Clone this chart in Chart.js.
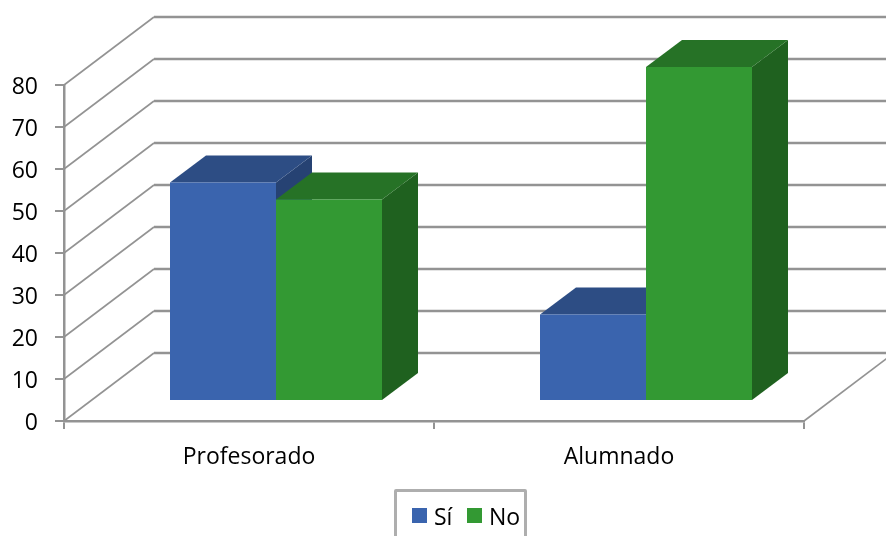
<!DOCTYPE html>
<html>
<head>
<meta charset="utf-8">
<title>Profesorado y Alumnado</title>
<script src="https://cdn.jsdelivr.net/npm/chart.js@4"></script>
<style>
html, body { margin: 0; padding: 0; background: #fff; overflow: hidden; }
#wrap { position: relative; width: 886px; height: 536px; overflow: hidden; }
canvas { display: block; }
#legend {
    position: absolute; left: 394px; top: 489px; width: 127px; height: 60px;
    border: 3px solid #aeaeae; border-radius: 2px;
    font: 23px "Open Sans", sans-serif; color: #000;
}
#legend span { position: absolute; top: 9px; line-height: 30px; }
#legend i { position: absolute; top: 16px; width: 15px; height: 15px; }
</style>
</head>
<body>
<div id="wrap">
    <canvas id="chart" width="886" height="536"></canvas>
    <div id="legend"></div>
</div>
<script>
const categories = ['Profesorado', 'Alumnado'];
const siValues = [52, 20.6];
const noValues = [48, 79.5];
const seriesNames = ['Sí', 'No'];

const front = ['#3a64ae', '#339933'];
const top3d = ['#2d4d84', '#267226'];
const side3d = ['#264273', '#1f611f'];
const lineColor = '#939393';

// depth of the floor/walls and of the bars themselves
const wallDx = 90, wallDy = -68;
const barDx = 36, barDy = -27;
const shiftX = 27, shiftY = -20;

function poly(ctx, color, pts) {
    ctx.fillStyle = color;
    ctx.beginPath();
    pts.forEach((p, i) => i ? ctx.lineTo(p[0], p[1]) : ctx.moveTo(p[0], p[1]));
    ctx.closePath();
    ctx.fill();
}

const walls = {
    id: 'walls',
    beforeDatasetsDraw(chart) {
        const ctx = chart.ctx, yScale = chart.scales.y, area = chart.chartArea;
        ctx.save();
        ctx.strokeStyle = lineColor;
        yScale.ticks.forEach(t => {
            const y = yScale.getPixelForValue(t.value);
            ctx.lineWidth = 1.6;
            ctx.beginPath();
            ctx.moveTo(area.left, y);
            ctx.lineTo(area.left + wallDx, y + wallDy);
            ctx.stroke();
            ctx.lineWidth = 2.5;
            ctx.beginPath();
            ctx.moveTo(area.left + wallDx, y + wallDy);
            ctx.lineTo(chart.width, y + wallDy);
            ctx.stroke();
        });
        // right edge of the floor
        ctx.lineWidth = 1.6;
        ctx.beginPath();
        ctx.moveTo(area.right, area.bottom);
        ctx.lineTo(area.right + wallDx, area.bottom + wallDy);
        ctx.stroke();
        ctx.restore();

        // bars are pushed back from the front plane, and get their top and side here
        ctx.save();
        ctx.translate(shiftX, shiftY);
        categories.forEach((c, i) => {
            chart.data.datasets.forEach((d, di) => {
                const bar = chart.getDatasetMeta(di).data[i];
                const l = bar.x - bar.width / 2, r = bar.x + bar.width / 2;
                poly(ctx, side3d[di], [[r, bar.y], [r + barDx, bar.y + barDy], [r + barDx, bar.base + barDy], [r, bar.base]]);
                poly(ctx, top3d[di], [[l, bar.y], [l + barDx, bar.y + barDy], [r + barDx, bar.y + barDy], [r, bar.y]]);
            });
        });
        ctx.restore();

        ctx.save();
        ctx.translate(shiftX, shiftY);
    },
    afterDatasetsDraw(chart) {
        chart.ctx.restore();
    }
};

new Chart(document.getElementById('chart'), {
    type: 'bar',
    data: {
        labels: categories,
        datasets: [
            { label: seriesNames[0], data: siValues, backgroundColor: front[0] },
            { label: seriesNames[1], data: noValues, backgroundColor: front[1] }
        ]
    },
    options: {
        responsive: false,
        animation: false,
        layout: { autoPadding: false, padding: { top: 85, right: 82, left: 0, bottom: 0 } },
        plugins: { legend: { display: false }, tooltip: { enabled: false } },
        datasets: { bar: { barPercentage: 1, categoryPercentage: 212 / 370 } },
        scales: {
            x: {
                afterFit(s) { s.height = 115; },
                grid: { drawOnChartArea: false, color: lineColor, lineWidth: 2, tickLength: 8 },
                border: { color: lineColor, width: 2.5 },
                ticks: { color: '#000', padding: 15, font: { family: '"Open Sans", sans-serif', size: 23 }, maxRotation: 0 }
            },
            y: {
                min: 0,
                max: 80,
                afterFit(s) { s.width = 64; },
                grid: { drawOnChartArea: false, color: lineColor, lineWidth: 2, tickLength: 9 },
                border: { color: lineColor, width: 2.5 },
                ticks: { stepSize: 10, color: '#000', padding: 17, labelOffset: 2, font: { family: '"Open Sans", sans-serif', size: 23 } }
            }
        }
    },
    plugins: [walls]
});

// legend box runs off the bottom of the picture, so it is a plain div
const legend = document.getElementById('legend');
const legendX = [[15, 37], [70, 92]];
seriesNames.forEach((name, i) => {
    const box = document.createElement('i');
    box.style.left = legendX[i][0] + 'px';
    box.style.background = front[i];
    const text = document.createElement('span');
    text.style.left = legendX[i][1] + 'px';
    text.textContent = name;
    legend.appendChild(box);
    legend.appendChild(text);
});
</script>
</body>
</html>
